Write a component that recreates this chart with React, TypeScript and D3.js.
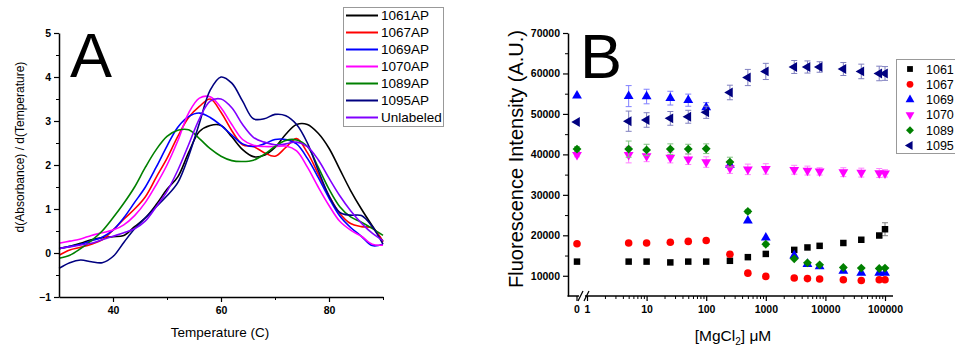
import * as d3 from "d3";
import React, { useEffect, useRef } from "react";

// ---- Panel A: derivative melting curves ----
const temps = [30, 32, 34, 36, 38, 40, 42, 44, 46, 48, 50, 52, 54, 56, 58, 60, 62, 64, 66, 68, 70, 72, 74, 76, 78, 80, 82, 84, 86, 88, 90];

const c1061 = [0.1, 0.15, 0.22, 0.3, 0.35, 0.37, 0.4, 0.6, 0.8, 1.1, 1.45, 1.73, 2.28, 2.76, 2.9, 2.9, 2.64, 2.35, 2.19, 2.22, 2.4, 2.7, 2.92, 2.92, 2.72, 2.38, 1.9, 1.42, 1.0, 0.62, 0.26];
const c1067 = [-0.05, 0.07, 0.13, 0.2, 0.3, 0.52, 0.77, 1.0, 1.28, 1.72, 2.15, 2.65, 3.08, 3.33, 3.5, 3.2, 2.78, 2.46, 2.42, 2.28, 2.2, 2.4, 2.6, 2.28, 1.8, 1.3, 0.9, 0.67, 0.6, 0.57, 0.26];
const c1069 = [0.1, 0.15, 0.2, 0.28, 0.36, 0.52, 0.8, 1.15, 1.5, 1.95, 2.43, 2.86, 3.1, 3.18, 3.08, 2.9, 2.68, 2.48, 2.42, 2.48, 2.58, 2.58, 2.48, 2.15, 1.72, 1.25, 0.84, 0.58, 0.38, 0.17, 0.2];
const c1070 = [0.22, 0.27, 0.32, 0.4, 0.46, 0.52, 0.64, 0.85, 1.15, 1.55, 2.0, 2.55, 3.18, 3.52, 3.55, 3.3, 2.92, 2.58, 2.45, 2.42, 2.42, 2.43, 2.32, 1.95, 1.5, 1.08, 0.72, 0.52, 0.38, 0.2, 0.18];
const c1089 = [-0.12, -0.05, 0.1, 0.28, 0.5, 0.8, 1.13, 1.5, 1.95, 2.35, 2.65, 2.79, 2.8, 2.6, 2.37, 2.2, 2.1, 2.08, 2.11, 2.24, 2.42, 2.56, 2.57, 2.42, 1.95, 1.45, 1.05, 0.82, 0.7, 0.56, 0.4];
const c1095 = [-0.35, -0.22, -0.16, -0.2, -0.22, -0.08, 0.24, 0.55, 0.8, 1.05, 1.3, 1.6, 2.2, 2.95, 3.7, 4.0, 3.86, 3.45, 3.05, 3.05, 3.15, 3.12, 2.92, 2.5, 1.88, 1.3, 0.92, 0.86, 0.85, 0.6, 0.2];
const cUnl = [0.1, 0.14, 0.18, 0.22, 0.3, 0.38, 0.46, 0.55, 0.73, 1.05, 1.4, 1.88, 2.46, 3.05, 3.45, 3.5, 3.3, 2.92, 2.63, 2.52, 2.46, 2.48, 2.52, 2.42, 2.12, 1.7, 1.3, 0.96, 0.68, 0.45, 0.28];

const curveNames = ["1061AP", "1067AP", "1069AP", "1070AP", "1089AP", "1095AP", "Unlabeled"];
const curveColors = ["#000000", "#ff0000", "#0000ff", "#ff00ff", "#008000", "#000080", "#8000ff"];
const curves = [c1061, c1067, c1069, c1070, c1089, c1095, cUnl];

// ---- Panel B: fluorescence vs MgCl2 ----
const mg = [0, 5, 10, 25, 50, 100, 250, 500, 1000, 3000, 5000, 8000, 20000, 40000, 80000, 100000];

const f1061 = [13500, 13500, 13500, 13300, 13500, 13500, 13700, 14600, 15400, 16400, 17000, 17400, 18100, 18900, 19950, 21500];
const f1067 = [17900, 18100, 18100, 18300, 18500, 18700, 15300, 10650, 9850, 9450, 9300, 9200, 9000, 8850, 9000, 9000];
const f1069 = [54500, 54400, 54300, 53900, 53400, 51600, 37400, 23600, 19400, 15000, 12900, 12300, 11200, 10700, 10700, 10700];
const f1070 = [39900, 39900, 39600, 39200, 38800, 38100, 36600, 36300, 36400, 36200, 36000, 35800, 35600, 35500, 35400, 35300];
const f1089 = [41300, 41300, 41100, 41300, 41300, 41400, 38100, 25900, 17800, 14200, 13200, 12700, 12050, 11900, 11800, 11900];
const f1095 = [48000, 48200, 48500, 48900, 49300, 50400, 55300, 59000, 60500, 61600, 61600, 61600, 61100, 60500, 60000, 60000];

const e1061 = [0, 0, 0, 0, 0, 0, 0, 0, 0, 0, 0, 0, 0, 0, 500, 1600];
const e1067 = [0, 0, 0, 0, 0, 0, 0, 0, 0, 0, 0, 0, 0, 0, 0, 0];
const e1069 = [0, 2600, 1800, 1700, 1500, 1200, 600, 0, 0, 0, 0, 0, 0, 0, 0, 0];
const e1070 = [500, 2000, 1400, 1300, 1300, 1300, 1300, 1300, 1300, 1100, 1100, 900, 1100, 1100, 1100, 900];
const e1089 = [600, 2000, 1400, 1300, 1200, 1200, 1200, 500, 500, 0, 0, 0, 0, 0, 0, 0];
const e1095 = [0, 2500, 1800, 1700, 1600, 1500, 1800, 2000, 2000, 1600, 1500, 1300, 1600, 1800, 1800, 1700];

const pointNames = ["1061", "1067", "1069", "1070", "1089", "1095"];
const pointColors = ["#000000", "#ff0000", "#0000ff", "#ff00ff", "#008000", "#000080"];
const points = [f1061, f1067, f1069, f1070, f1089, f1095];
const errors = [e1061, e1067, e1069, e1070, e1089, e1095];

const FONT = "'Liberation Sans', Arial, sans-serif";

const App: React.FC = () => {
  const ref = useRef<HTMLDivElement>(null);

  useEffect(() => {
    document.body.style.margin = "0";
    const width = 955;
    const height = 351;

    const svg = d3.select(ref.current)
      .append("svg")
      .attr("width", width)
      .attr("height", height)
      .attr("style", `display:block; background:#fff; font-family:${FONT};`);

    const styleAxis = (g: any) => {
      g.select(".domain").attr("stroke-width", 1.5);
      g.selectAll(".tick line").attr("stroke-width", 1.2);
      g.selectAll("text").attr("font-family", FONT).attr("font-weight", "bold").attr("font-size", 10.5).attr("fill", "#000");
    };

    // ================= Panel A =================
    const xA = d3.scaleLinear().domain([30, 90]).range([59, 383]);
    const yA = d3.scaleLinear().domain([-1, 5]).range([297, 33]);

    const line = d3.line<number>()
      .x((d, i) => xA(temps[i]))
      .y(d => yA(d))
      .curve(d3.curveCatmullRom);

    svg.append("g")
      .selectAll("path")
      .data(curves)
      .join("path")
      .attr("fill", "none")
      .attr("stroke", (d, i) => curveColors[i])
      .attr("stroke-width", 1.6)
      .attr("d", d => line(d));

    svg.append("g")
      .attr("transform", `translate(0,${yA(-1)})`)
      .call(d3.axisBottom(xA).tickValues([50, 70, 90]).tickSize(3).tickFormat(() => ""))
      .call(g => g.select(".domain").remove());
    svg.append("g")
      .attr("transform", `translate(0,${yA(-1)})`)
      .call(d3.axisBottom(xA).tickValues([40, 60, 80]).tickSize(5).tickPadding(5).tickSizeOuter(0))
      .call(styleAxis);

    svg.append("g")
      .attr("transform", `translate(${xA(30)},0)`)
      .call(d3.axisLeft(yA).tickValues([-0.5, 0.5, 1.5, 2.5, 3.5, 4.5]).tickSize(3).tickFormat(() => ""))
      .call(g => g.select(".domain").remove());
    svg.append("g")
      .attr("transform", `translate(${xA(30)},0)`)
      .call(d3.axisLeft(yA).ticks(6).tickSize(5).tickPadding(3).tickSizeOuter(0).tickFormat(d3.format("d")))
      .call(styleAxis);

    svg.append("text")
      .attr("x", 91).attr("y", 77)
      .attr("text-anchor", "middle")
      .attr("font-size", 63)
      .text("A");

    svg.append("text")
      .attr("transform", "translate(24,147) rotate(-90)")
      .attr("text-anchor", "middle")
      .attr("font-size", 12)
      .text("d(Absorbance) / d(Temperature)");

    svg.append("text")
      .attr("x", 220).attr("y", 337)
      .attr("text-anchor", "middle")
      .attr("font-size", 13.5)
      .text("Temperature (C)");

    const legA = svg.append("g");
    legA.append("rect")
      .attr("x", 343.5).attr("y", 7.5).attr("width", 100).attr("height", 119)
      .attr("fill", "#fff").attr("stroke", "#999");
    const legAItems = legA.selectAll("g")
      .data(curveNames)
      .join("g")
      .attr("transform", (d, i) => `translate(0,${15.5 + i * 17})`);
    legAItems.append("line")
      .attr("x1", 346).attr("x2", 378)
      .attr("stroke", (d, i) => curveColors[i])
      .attr("stroke-width", 2);
    legAItems.append("text")
      .attr("x", 381).attr("dy", "0.36em")
      .attr("font-size", 13.5)
      .text(d => d);

    // ================= Panel B =================
    const xB = d3.scaleLog().domain([1, 100000]).range([587, 885]);
    const xZero = 577;
    const yB = d3.scaleLinear().domain([5000, 70000]).range([296, 33]);
    const px = (v: number) => (v === 0 ? xZero : xB(v));

    const decades = [1, 10, 100, 1000, 10000, 100000];
    const minors: number[] = [];
    decades.slice(0, -1).forEach(k => {
      for (let m = 2; m <= 9; m++) minors.push(k * m);
    });

    svg.append("g")
      .attr("transform", `translate(0,${yB(5000)})`)
      .call(d3.axisBottom(xB).tickValues(minors).tickSize(3).tickFormat(() => ""))
      .call(g => g.select(".domain").remove());
    svg.append("g")
      .attr("transform", `translate(0,${yB(5000)})`)
      .call(d3.axisBottom(xB).tickValues(decades).tickSize(5).tickPadding(5).tickFormat(d3.format("d")))
      .call(g => g.select(".domain").remove())
      .call(styleAxis);

    const zeroTick = svg.append("g").attr("transform", `translate(${xZero},${yB(5000)})`);
    zeroTick.append("line").attr("y2", 5).attr("stroke", "#000").attr("stroke-width", 1.2);
    zeroTick.append("text")
      .attr("y", 10).attr("dy", "0.71em")
      .attr("text-anchor", "middle")
      .attr("font-weight", "bold").attr("font-size", 10.5)
      .text("0");

    svg.append("line")
      .attr("x1", 567.5).attr("x2", 893)
      .attr("y1", yB(5000)).attr("y2", yB(5000))
      .attr("stroke", "#000").attr("stroke-width", 1.5);

    // axis break
    svg.append("rect")
      .attr("x", 579).attr("y", yB(5000) - 4).attr("width", 6).attr("height", 8)
      .attr("fill", "#fff");
    [578, 584].forEach(b => {
      svg.append("line")
        .attr("x1", b).attr("y1", yB(5000) + 5)
        .attr("x2", b + 5).attr("y2", yB(5000) - 5)
        .attr("stroke", "#000").attr("stroke-width", 1.2);
    });

    svg.append("g")
      .attr("transform", "translate(568,0)")
      .call(d3.axisLeft(yB).tickValues(d3.range(15000, 70000, 10000)).tickSize(3).tickFormat(() => ""))
      .call(g => g.select(".domain").remove());
    svg.append("g")
      .attr("transform", "translate(568,0)")
      .call(d3.axisLeft(yB).tickValues(d3.range(10000, 70001, 10000)).tickSize(5).tickPadding(3).tickSizeOuter(0).tickFormat(d3.format("d")))
      .call(styleAxis);

    const symbols = [
      { type: d3.symbolSquare, size: 42, rot: 0 },
      { type: d3.symbolCircle, size: 45, rot: 0 },
      { type: d3.symbolTriangle, size: 42, rot: 0 },
      { type: d3.symbolTriangle, size: 42, rot: 180 },
      { type: d3.symbolDiamond2, size: 50, rot: 0 },
      { type: d3.symbolTriangle, size: 42, rot: -90 },
    ];

    points.forEach((series, s) => {
      const col = pointColors[s];
      const errCol = d3.interpolateRgb(col, "#ffffff")(0.5);
      const g = svg.append("g");
      const eb = g.selectAll("g.err")
        .data(series.map((v, i) => ({ x: mg[i], y: v, e: errors[s][i] })).filter(d => d.e > 0))
        .join("g")
        .attr("class", "err")
        .attr("stroke", errCol)
        .attr("stroke-width", 1);
      eb.append("line")
        .attr("x1", d => px(d.x)).attr("x2", d => px(d.x))
        .attr("y1", d => yB(d.y - d.e)).attr("y2", d => yB(d.y + d.e));
      eb.append("line")
        .attr("x1", d => px(d.x) - 3).attr("x2", d => px(d.x) + 3)
        .attr("y1", d => yB(d.y - d.e)).attr("y2", d => yB(d.y - d.e));
      eb.append("line")
        .attr("x1", d => px(d.x) - 3).attr("x2", d => px(d.x) + 3)
        .attr("y1", d => yB(d.y + d.e)).attr("y2", d => yB(d.y + d.e));

      const sym = d3.symbol().type(symbols[s].type).size(symbols[s].size);
      g.selectAll("path.pt")
        .data(series)
        .join("path")
        .attr("class", "pt")
        .attr("fill", col)
        .attr("transform", (d, i) => `translate(${px(mg[i])},${yB(d)}) rotate(${symbols[s].rot})`)
        .attr("d", sym() as string);
    });

    svg.append("text")
      .attr("x", 580).attr("y", 78)
      .attr("font-size", 63)
      .text("B");

    svg.append("text")
      .attr("transform", "translate(523,159) rotate(-90)")
      .attr("text-anchor", "middle")
      .attr("font-size", 20)
      .text("Fluorescence Intensity (A.U.)");

    const xl = svg.append("text")
      .attr("x", 733).attr("y", 341)
      .attr("text-anchor", "middle")
      .attr("font-size", 15.5);
    xl.append("tspan").text("[MgCl");
    xl.append("tspan").attr("font-size", 10).attr("dy", 4).text("2");
    xl.append("tspan").attr("dy", -4).text("] \u03bcM");

    const legB = svg.append("g");
    legB.append("rect")
      .attr("x", 896.5).attr("y", 59.5).attr("width", 80).attr("height", 94)
      .attr("fill", "#fff").attr("stroke", "#999");
    const legBItems = legB.selectAll("g")
      .data(pointNames)
      .join("g")
      .attr("transform", (d, i) => `translate(0,${69 + i * 15.3})`);
    legBItems.append("path")
      .attr("fill", (d, i) => pointColors[i])
      .attr("transform", (d, i) => `translate(910,0) rotate(${symbols[i].rot})`)
      .attr("d", (d, i) => d3.symbol().type(symbols[i].type).size(symbols[i].size * 0.8)() as string);
    legBItems.append("text")
      .attr("x", 926).attr("dy", "0.36em")
      .attr("font-size", 12.5)
      .text(d => d);

    return () => {
      d3.select(ref.current).selectAll("*").remove();
    };
  }, []);

  return <div ref={ref} />;
};

export default App;
